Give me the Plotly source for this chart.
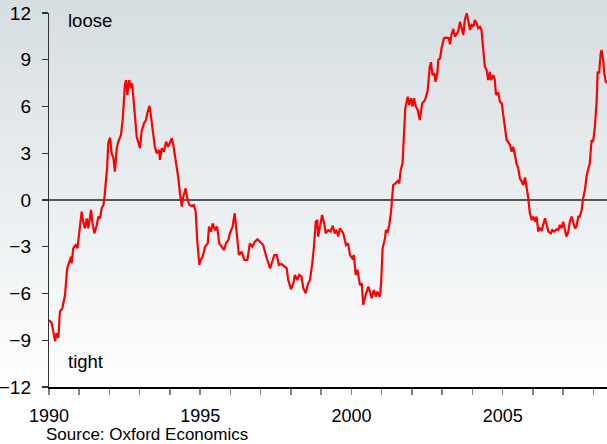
import plotly.graph_objects as go

# Decimal years and index values
years = [1990.00,1990.09,1990.20,1990.25,1990.31,1990.36,1990.44,1990.47,1990.53,1990.60,
1990.66,1990.73,1990.75,1990.80,1990.88,1990.94,1990.99,1991.08,1991.13,1991.19,
1991.25,1991.30,1991.39,1991.43,1991.50,1991.58,1991.63,1991.69,1991.74,1991.80,
1991.83,1991.87,1991.92,1991.96,1992.02,1992.07,1992.13,1992.18,1992.24,1992.29,
1992.38,1992.44,1992.51,1992.55,1992.59,1992.65,1992.71,1992.75,1992.84,1992.90,
1993.01,1993.06,1993.14,1993.21,1993.25,1993.32,1993.36,1993.43,1993.50,1993.56,
1993.64,1993.67,1993.73,1993.80,1993.87,1993.94,1994.06,1994.11,1994.20,1994.27,
1994.33,1994.39,1994.44,1994.52,1994.57,1994.64,1994.72,1994.79,1994.85,1994.90,
1994.97,1995.01,1995.08,1995.16,1995.25,1995.29,1995.36,1995.41,1995.49,1995.56,
1995.63,1995.71,1995.79,1995.85,1995.93,1995.98,1996.07,1996.14,1996.21,1996.28,
1996.37,1996.46,1996.56,1996.64,1996.72,1996.81,1996.89,1996.98,1997.08,1997.20,
1997.31,1997.38,1997.45,1997.53,1997.60,1997.69,1997.78,1997.86,1997.91,1998.00,
1998.08,1998.13,1998.21,1998.27,1998.35,1998.41,1998.49,1998.55,1998.63,1998.70,
1998.76,1998.82,1998.87,1998.90,1998.96,1999.03,1999.10,1999.15,1999.23,1999.31,
1999.38,1999.45,1999.51,1999.56,1999.62,1999.73,1999.82,1999.89,1999.95,2000.03,
2000.08,2000.14,2000.20,2000.28,2000.34,2000.39,2000.47,2000.56,2000.61,2000.67,
2000.74,2000.81,2000.85,2000.94,2000.98,2001.03,2001.11,2001.14,2001.20,2001.25,
2001.31,2001.34,2001.38,2001.46,2001.53,2001.58,2001.63,2001.69,2001.74,2001.78,
2001.86,2001.91,2001.97,2002.02,2002.07,2002.13,2002.19,2002.26,2002.34,2002.43,
2002.52,2002.59,2002.63,2002.68,2002.74,2002.78,2002.84,2002.87,2002.93,2002.98,
2003.06,2003.15,2003.22,2003.26,2003.31,2003.37,2003.42,2003.48,2003.53,2003.59,
2003.64,2003.70,2003.75,2003.81,2003.86,2003.92,2003.97,2004.03,2004.08,2004.14,
2004.19,2004.25,2004.30,2004.36,2004.41,2004.47,2004.52,2004.58,2004.61,2004.69,
2004.74,2004.78,2004.85,2004.91,2004.97,2005.02,2005.07,2005.13,2005.18,2005.24,
2005.30,2005.35,2005.40,2005.46,2005.51,2005.57,2005.63,2005.68,2005.74,2005.79,
2005.84,2005.90,2005.96,2006.01,2006.07,2006.12,2006.18,2006.23,2006.29,2006.40,
2006.45,2006.51,2006.59,2006.64,2006.70,2006.78,2006.84,2006.89,2006.95,2007.00,
2007.06,2007.11,2007.17,2007.22,2007.28,2007.33,2007.39,2007.44,2007.50,2007.55,
2007.61,2007.66,2007.72,2007.78,2007.83,2007.88,2007.94,2007.99,2008.05,2008.11,
2008.14,2008.19,2008.24,2008.27,2008.33,2008.36,2008.41,2008.45]

values = [-7.7,-7.9,-9.05,-8.55,-8.85,-7.17,-6.95,-6.63,-6.1,-4.39,
-3.96,-3.64,-4.07,-3.1,-2.89,-3.1,-2.25,-0.75,-1.39,-1.82,
-1.18,-1.82,-0.64,-1.39,-2.14,-1.6,-1.07,-1.18,-0.53,-0.32,
0.11,0.85,2.03,3.64,4.0,3.0,2.68,1.82,3.32,3.74,
4.17,5.24,7.38,7.7,6.74,7.7,7.17,7.49,5.46,4.06,
3.32,4.38,4.92,5.13,5.56,6.03,5.56,4.28,3.42,3.0,
3.21,2.57,3.32,3.1,3.74,3.42,3.96,3.53,2.46,1.5,
0.43,-0.43,0.21,0.75,0.11,-0.32,-0.39,-0.32,-0.75,-2.57,
-4.17,-3.85,-3.64,-3.0,-2.78,-1.71,-2.03,-1.5,-1.93,-1.71,
-2.78,-3.0,-3.21,-2.78,-2.57,-2.14,-1.71,-0.85,-2.14,-3.53,
-3.32,-3.85,-3.85,-2.78,-3.0,-2.68,-2.52,-2.68,-2.89,-3.74,
-4.39,-3.96,-3.53,-3.53,-4.17,-4.11,-4.24,-4.39,-5.13,-5.73,
-5.35,-4.81,-5.13,-4.81,-4.92,-5.67,-5.99,-5.46,-5.13,-4.17,
-3.0,-1.39,-1.28,-2.35,-1.71,-0.96,-1.5,-2.14,-1.93,-2.03,
-1.65,-2.15,-1.93,-2.35,-1.82,-2.14,-2.89,-2.78,-3.53,-3.74,
-3.53,-4.81,-4.49,-5.46,-5.35,-6.74,-6.1,-5.56,-5.88,-6.31,
-5.78,-6.21,-5.88,-6.21,-5.35,-3.1,-2.46,-1.93,-2.03,-1.6,
-0.75,0.11,0.96,1.07,1.22,1.07,1.93,2.36,5.03,5.88,
6.63,6.1,6.53,5.99,6.53,5.99,5.78,5.13,6.21,6.4,
7.0,8.56,8.84,8.02,8.13,7.59,8.13,8.99,9.09,9.74,
10.38,10.42,10.38,9.99,10.64,10.98,10.48,10.7,10.8,11.44,
11.12,10.59,11.55,11.98,11.55,10.91,11.23,11.12,11.55,11.34,
11.02,11.12,10.91,9.74,8.56,8.34,7.7,8.23,7.7,8.02,
7.7,6.74,6.91,6.31,6.2,5.46,4.6,3.85,3.74,3.53,
3.1,3.42,2.95,2.3,2.1,1.39,1.18,0.96,1.45,0.85,
0.21,-0.85,-1.28,-1.07,-1.39,-1.07,-2.03,-1.82,-1.93,-1.18,
-1.5,-2.03,-2.14,-1.93,-2.03,-1.88,-1.93,-1.6,-1.82,-1.39,
-1.93,-2.35,-2.03,-1.39,-1.07,-1.39,-1.82,-1.71,-1.07,-1.07,
-0.64,0.11,0.64,1.6,1.93,2.36,3.85,3.74,4.7,6.42,
8.23,8.13,9.41,9.63,8.88,8.13,7.59,7.5]

year_ticks = list(range(1990, 2009))
year_labels = [str(y) if y % 5 == 0 else "" for y in year_ticks]
y_ticks = [-12, -9, -6, -3, 0, 3, 6, 9, 12]

W, H = 607, 444
ML, MR, MT, MB = 49, 0, 13, 57
ph = H - MT - MB
pw = W - ML - MR

fig = go.Figure()

# background gradient across whole figure
top_c = (214, 222, 226)
bot_c = (255, 255, 255)
nb = 60
y_bot_px = 400  # pixel (from top) where it becomes white
shapes = []
for i in range(nb):
    p0 = i * y_bot_px / nb
    p1 = (i + 1) * y_bot_px / nb + 0.8
    t = i / (nb - 1)
    c = tuple(int(round(top_c[k] + (bot_c[k] - top_c[k]) * t)) for k in range(3))
    shapes.append(dict(type="rect", xref="paper", yref="paper",
                       x0=-ML / pw - 0.01, x1=1.01,
                       y0=1 - (p1 - MT) / ph, y1=1 - (p0 - MT) / ph,
                       fillcolor="rgb(%d,%d,%d)" % c, line=dict(width=0),
                       layer="below"))
# zero line
shapes.append(dict(type="line", xref="paper", yref="y", x0=0, x1=1, y0=0, y1=0,
                   line=dict(color="#222222", width=1.6), layer="below"))

fig.add_trace(go.Scatter(x=years, y=values, mode="lines",
                         line=dict(color="#ff0000", width=2.2), hoverinfo="skip",
                         showlegend=False))

fig.update_layout(
    width=W, height=H,
    margin=dict(l=ML, r=MR, t=MT, b=MB, autoexpand=False),
    paper_bgcolor="white", plot_bgcolor="rgba(0,0,0,0)",
    font=dict(family="Liberation Sans, Arial, sans-serif", size=18, color="black"),
    shapes=shapes,
    showlegend=False,
    xaxis=dict(range=[1990, 2008.45], tickvals=year_ticks, ticktext=year_labels,
               ticks="outside", ticklen=6, tickcolor="#808080", tickwidth=1.5,
               showgrid=False, zeroline=False, showline=True, linecolor="black",
               linewidth=1.5, tickfont=dict(size=18), ticklabelstandoff=6,
               automargin=False),
    yaxis=dict(range=[-12, 12], tickvals=y_ticks, ticks="outside", ticklen=6,
               tickcolor="#333333", tickwidth=1.2, showgrid=False, zeroline=False,
               showline=True, linecolor="#333333", linewidth=1.2,
               tickfont=dict(size=19), ticklabelstandoff=7, automargin=False),
    annotations=[
        dict(text="loose", x=0.031, y=0.979, xref="paper", yref="paper",
             xanchor="left", yanchor="middle", showarrow=False, font=dict(size=18.5)),
        dict(text="tight", x=0.03, y=0.067, xref="paper", yref="paper",
             xanchor="left", yanchor="middle", showarrow=False, font=dict(size=18.5)),
        dict(text="Source: Oxford Economics", x=-0.009, y=-0.126, xref="paper",
             yref="paper", xanchor="left", yanchor="middle", showarrow=False,
             font=dict(size=17)),
    ],
)

fig.write_html("out.html", post_script="document.body.style.margin='0';",
               config={"displayModeBar": False, "staticPlot": True})
